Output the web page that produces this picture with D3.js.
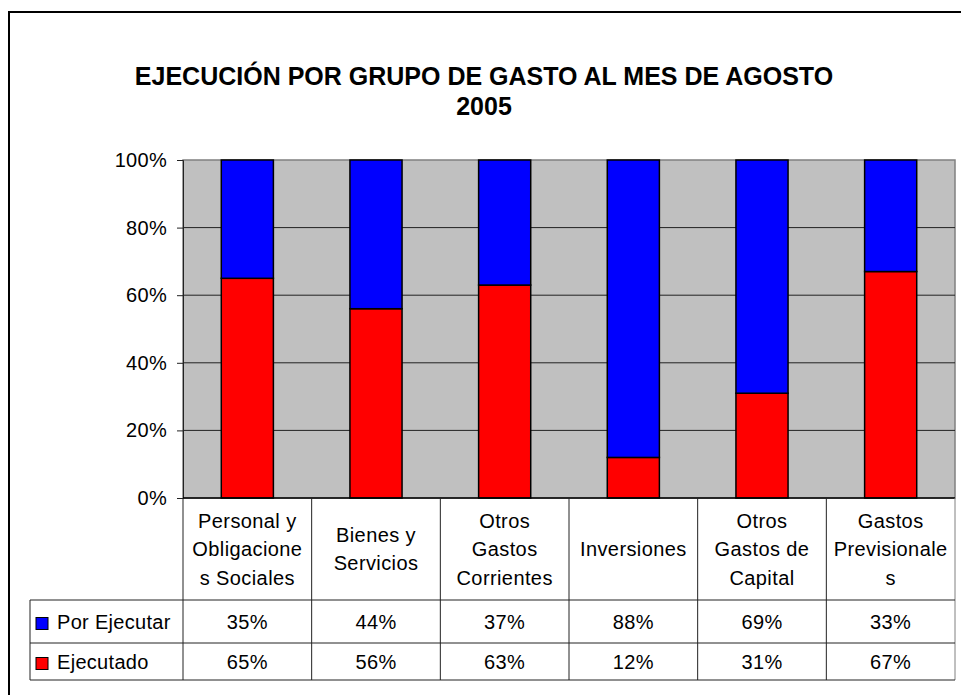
<!DOCTYPE html>
<html>
<head>
<meta charset="utf-8">
<script src="https://cdn.jsdelivr.net/npm/d3@7"></script>
<style>
  body { margin: 0; background: #fff; }
  text { font-family: "Liberation Sans", Arial, sans-serif; }
</style>
</head>
<body>
<script>
// data
var categories = ["Personal y Obligaciones Sociales", "Bienes y Servicios", "Otros Gastos Corrientes",
                  "Inversiones", "Otros Gastos de Capital", "Gastos Previsionales"];
var categoryLines = [["Personal y", "Obligacione", "s Sociales"], ["Bienes y", "Servicios"],
                     ["Otros", "Gastos", "Corrientes"], ["Inversiones"],
                     ["Otros", "Gastos de", "Capital"], ["Gastos", "Previsionale", "s"]];
var ejecutado = [65, 56, 63, 12, 31, 67];
var porEjecutar = [35, 44, 37, 88, 69, 33];
var seriesNames = ["Por Ejecutar", "Ejecutado"];
var seriesColors = ["#0000ff", "#ff0000"];
var yTicks = [0, 20, 40, 60, 80, 100];

var width = 961, height = 695;
var plot = {left: 183, right: 955, top: 160, bottom: 498};
var tableRows = [600, 643, 680];   // bottom of header row, row 1, row 2
var legendLeft = 30;

var svg = d3.select("body").append("svg")
  .attr("width", width).attr("height", height);

// outer frame (runs off the right and bottom of the picture)
svg.append("path")
  .attr("d", "M9,700V12H970")
  .attr("fill", "none").attr("stroke", "#000").attr("stroke-width", 2);

// title
var title = svg.append("text")
  .attr("text-anchor", "middle")
  .attr("font-size", 25).attr("font-weight", "bold");
title.append("tspan").attr("x", 484).attr("y", 85).text("EJECUCIÓN POR GRUPO DE GASTO AL MES DE AGOSTO");
title.append("tspan").attr("x", 484).attr("y", 115).text("2005");

var x = d3.scaleBand().domain(categories).range([plot.left, plot.right]).padding(0);
var y = d3.scaleLinear().domain([0, 100]).range([plot.bottom, plot.top]);

// plot background
svg.append("rect")
  .attr("x", plot.left).attr("y", plot.top)
  .attr("width", plot.right - plot.left).attr("height", plot.bottom - plot.top)
  .attr("fill", "#c0c0c0").attr("stroke", "#808080").attr("stroke-width", 1.5);

// gridlines
svg.append("g").selectAll("line")
  .data(yTicks.slice(1, -1))
  .enter().append("line")
  .attr("x1", plot.left).attr("x2", plot.right)
  .attr("y1", function(d){ return y(d); }).attr("y2", function(d){ return y(d); })
  .attr("stroke", "#222").attr("stroke-width", 1);

// y axis
var yAxis = svg.append("g")
  .attr("transform", "translate(" + plot.left + ",0)")
  .call(d3.axisLeft(y).tickValues(yTicks).tickSize(6).tickPadding(10)
    .tickFormat(function(d){ return d + "%"; }));
yAxis.select(".domain").attr("stroke", "#222");
yAxis.selectAll(".tick line").attr("stroke", "#222");
yAxis.selectAll("text").attr("font-size", 20).attr("letter-spacing", 0.3)
  .attr("font-family", "Liberation Sans, Arial, sans-serif").attr("fill", "#000");

// stacked bars
var rows = categories.map(function(c, i){
  return {cat: c, Ejecutado: ejecutado[i], "Por Ejecutar": porEjecutar[i]};
});
var stack = d3.stack().keys(["Ejecutado", "Por Ejecutar"])(rows);
var barW = x.bandwidth() * 0.405;

svg.append("g").selectAll("g")
  .data(stack)
  .enter().append("g")
  .attr("fill", function(d){ return d.key == "Ejecutado" ? seriesColors[1] : seriesColors[0]; })
  .selectAll("rect")
  .data(function(d){ return d; })
  .enter().append("rect")
  .attr("x", function(d){ return x(d.data.cat) + (x.bandwidth() - barW) / 2; })
  .attr("width", barW)
  .attr("y", function(d){ return y(d[1]); })
  .attr("height", function(d){ return y(d[0]) - y(d[1]); })
  .attr("stroke", "#000").attr("stroke-width", 1.5);

// x axis baseline
svg.append("line")
  .attr("x1", plot.left).attr("x2", plot.right)
  .attr("y1", plot.bottom).attr("y2", plot.bottom)
  .attr("stroke", "#000").attr("stroke-width", 1.5);

// data table
var table = svg.append("g").attr("stroke", "#222").attr("stroke-width", 1);
var bounds = categories.map(function(c){ return x(c); }).concat([plot.right]);
table.selectAll(".v")
  .data(bounds)
  .enter().append("line")
  .attr("x1", function(d){ return d; }).attr("x2", function(d){ return d; })
  .attr("y1", plot.bottom).attr("y2", tableRows[2])
  .attr("stroke", function(d, i){ return i == bounds.length - 1 ? "#808080" : "#222"; });
table.append("line")
  .attr("x1", legendLeft).attr("x2", legendLeft)
  .attr("y1", tableRows[0]).attr("y2", tableRows[2]);
table.selectAll(".h")
  .data(tableRows)
  .enter().append("line")
  .attr("x1", legendLeft).attr("x2", plot.right)
  .attr("y1", function(d){ return d; }).attr("y2", function(d){ return d; });

// category labels in header row
var lineGap = 28.5;
var headerMid = (plot.bottom + tableRows[0]) / 2;
svg.append("g").selectAll("text")
  .data(categoryLines)
  .enter().append("text")
  .attr("text-anchor", "middle")
  .attr("font-size", 20).attr("letter-spacing", 0.4)
  .each(function(lines, i){
    var t = d3.select(this);
    var y0 = headerMid + 7 - (lines.length - 1) * lineGap / 2;
    lines.forEach(function(l, j){
      t.append("tspan")
        .attr("x", x(categories[i]) + x.bandwidth() / 2)
        .attr("y", y0 + j * lineGap)
        .text(l);
    });
  });

// value rows
var tableData = [porEjecutar, ejecutado];
tableData.forEach(function(vals, r){
  var mid = (tableRows[r] + tableRows[r + 1]) / 2 + 7;
  svg.append("g").selectAll("text")
    .data(vals)
    .enter().append("text")
    .attr("x", function(d, i){ return x(categories[i]) + x.bandwidth() / 2; })
    .attr("y", mid)
    .attr("text-anchor", "middle")
    .attr("font-size", 20).attr("letter-spacing", 0.4)
    .text(function(d){ return d + "%"; });

  svg.append("rect")
    .attr("x", 36).attr("y", mid - 11)
    .attr("width", 12).attr("height", 12)
    .attr("fill", seriesColors[r]).attr("stroke", "#000").attr("stroke-width", 1);
  svg.append("text")
    .attr("x", 57).attr("y", mid)
    .attr("font-size", 20).attr("letter-spacing", 0.3)
    .text(seriesNames[r]);
});
</script>
</body>
</html>
